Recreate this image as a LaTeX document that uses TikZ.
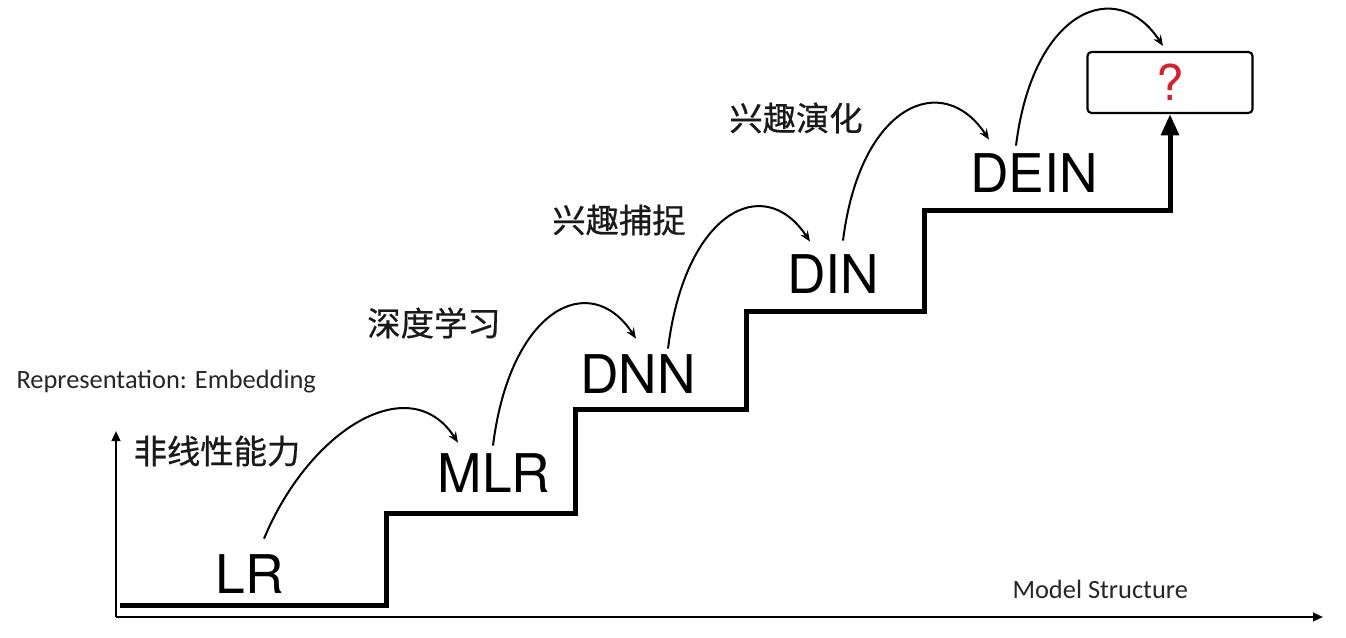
\documentclass[tikz,border=0pt]{standalone}
\usepackage{fontspec}
\setmainfont{TeX Gyre Heros}
\newfontfamily\cjk[FakeBold=0.6]{Noto Sans CJK SC}
\newfontfamily\notefont{Carlito}
\usetikzlibrary{calc}
\usetikzlibrary{arrows.meta}
\definecolor{qred}{RGB}{214,32,48}
\tikzset{every picture/.style={line width=0.75pt}}
\tikzset{
  model/.style={anchor=base, inner sep=0pt, font=\fontsize{40}{40}\selectfont},
  idea/.style={inner sep=0pt, text=black!90, font=\cjk\fontsize{25}{25}\selectfont},
  axislabel/.style={anchor=base west, inner sep=0pt, text=black!85, font=\notefont\fontsize{19.8}{19.8}\selectfont},
  hop/.style={line width=1.5pt, -{Stealth[length=8pt,width=6.5pt]}},
  axisline/.style={line width=1.6pt, -{Triangle[length=7.5pt,width=6.5pt]}},
}

\begin{document}
\begin{tikzpicture}[x=0.75pt,y=0.75pt,yscale=-1,xscale=1]
\useasboundingbox (0,0) rectangle (1346,638);

% Text Node
\node[model] (lr) at (250,593) {LR};
% Text Node
\node[model] (mlr) at (494,492) {MLR};
% Text Node
\node[model] (dnn) at (638,393) {DNN};
% Text Node
\node[model] (din) at (833,293) {DIN};
% Text Node
\node[model] (dein) at (1034,193) {DEIN};
% Rounded Rect
\node[draw, rounded corners=3pt, line width=1.6pt, minimum width=123.75pt, minimum height=45.75pt, text=qred, font=\fontsize{37}{37}\selectfont] (q) at (1170,82.5) {?};

% Text Node
\node[idea] (nonlin) at (217,451) {非线性能力};
% Text Node
\node[idea] (deep) at (434,323) {深度学习};
% Text Node
\node[idea] (catch) at (619,220) {兴趣捕捉};
% Text Node
\node[idea] (evolve) at (796,118) {兴趣演化};

% Text Node
\node[axislabel] (ylab) at (16,388) {Representation: Embedding};
% Text Node
\node[axislabel] (xlab) at (1012,598) {Model Structure};

%Axes
\coordinate (origin) at (116,617);
\draw[axisline] (origin) -- (116,431);
\draw[axisline] (origin) -- (1323,617);

%Stairs
\draw[line width=3.75pt, -{Triangle[length=16pt,width=13pt]}] (120,605) -- (386,605) -- (386,513) -- (575,513) -- (575,409) -- (746,409) -- (746,311) -- (924,311) -- (924,211) -- (1170,211) -- (q.south);

%Curve Lines
\draw[hop] ($(lr.north)+(14,-15)$) .. controls +(46,-110) and +(-48,-74) .. ($(mlr.north)+(-36,-10)$);
\draw[hop] ($(mlr.north)+(-1,-7)$) .. controls +(17,-137) and +(-46,-70) .. ($(dnn.north)+(-2,-15)$);
\draw[hop] ($(dnn.north)+(30,-5)$) .. controls +(17,-137) and +(-46,-70) .. ($(din.north)+(-23,-12)$);
\draw[hop] ($(din.north)+(10,-13)$) .. controls +(17,-137) and +(-46,-70) .. ($(dein.north)+(-45,-14)$);
\draw[hop] ($(dein.north)+(-18,-8)$) .. controls +(17,-137) and +(-46,-70) .. ($(q.north)+(-7,-5)$);
\end{tikzpicture}
\end{document}
